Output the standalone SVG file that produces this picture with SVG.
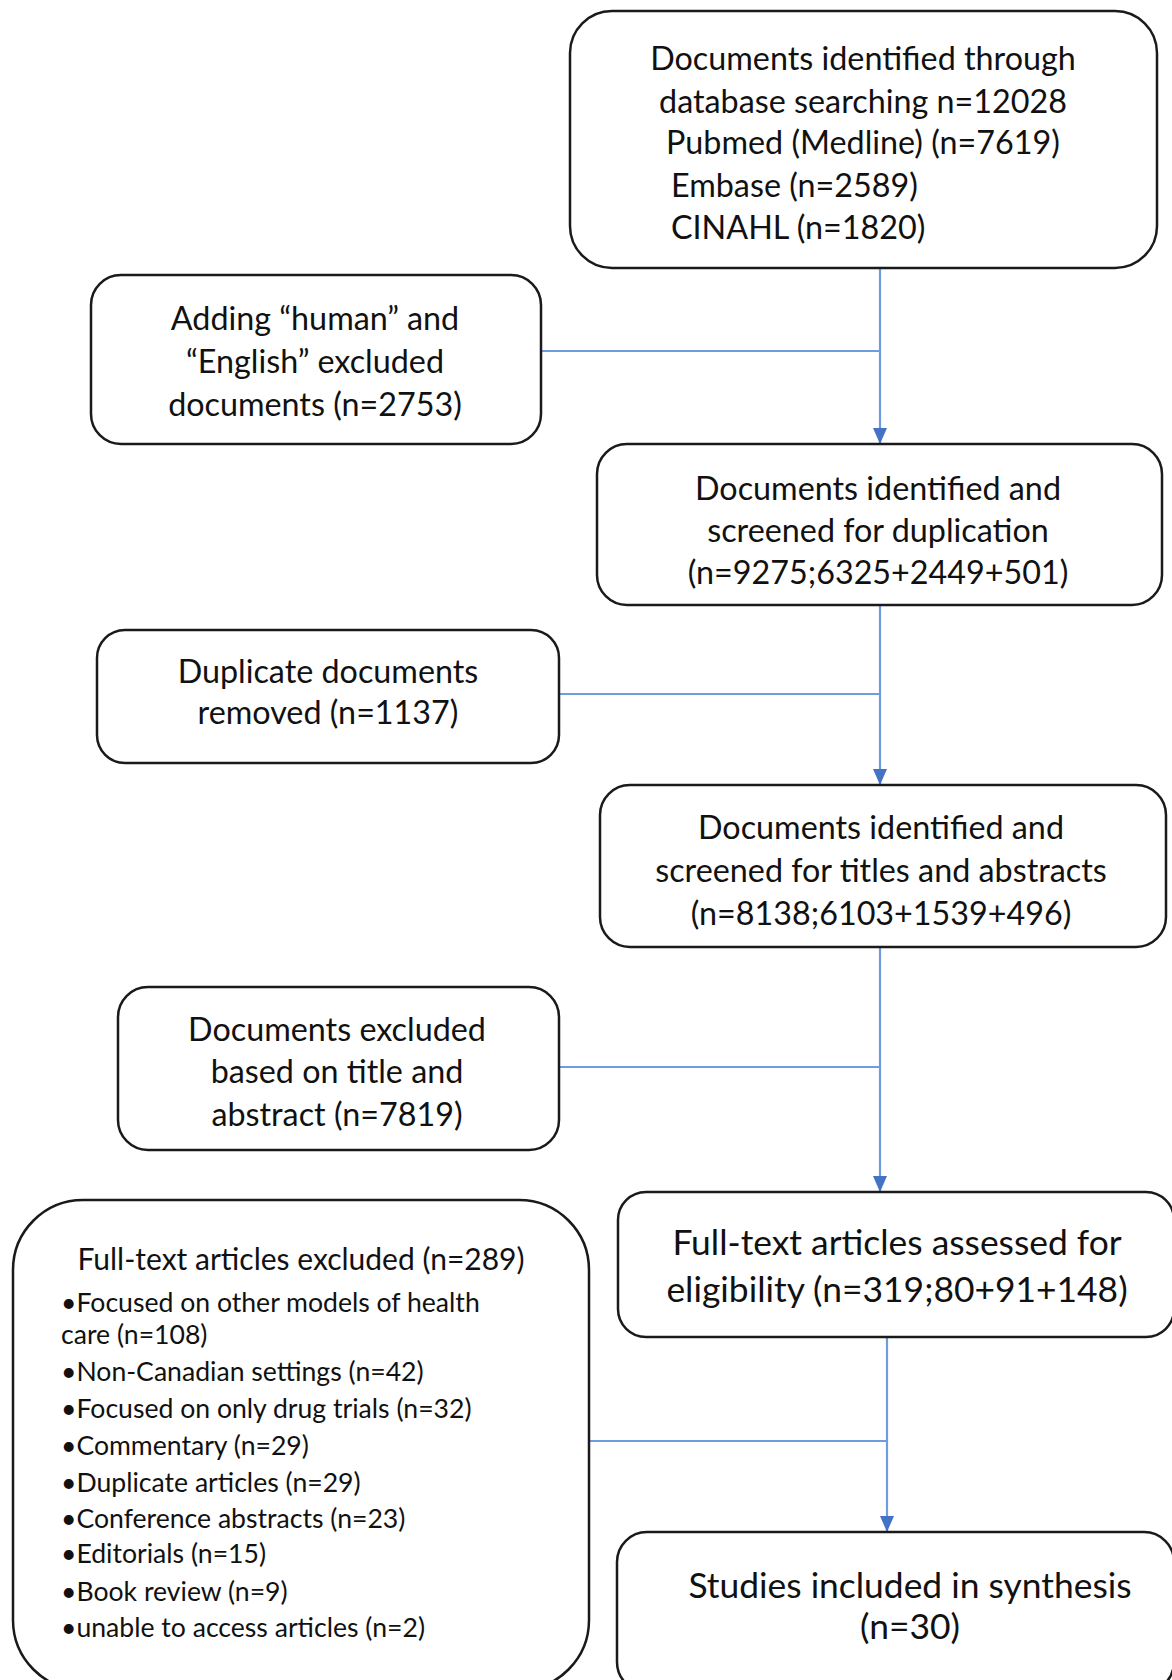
<svg xmlns="http://www.w3.org/2000/svg" width="1172" height="1680" viewBox="0 0 1172 1680">
<style>
.box{fill:#fff;stroke:#1a1a1a;stroke-width:2.5}
.t{font-family:Lato,"Liberation Sans",sans-serif;font-size:32.3px;fill:#111;text-anchor:middle}
.tb{font-family:Lato,"Liberation Sans",sans-serif;font-size:35.4px;fill:#111;text-anchor:middle}
.tl{font-family:Lato,"Liberation Sans",sans-serif;font-size:26.6px;fill:#111}
.tt{font-family:Lato,"Liberation Sans",sans-serif;font-size:30px;fill:#111;text-anchor:middle}
.c{stroke:#6f9be0;stroke-width:2.2;fill:none}
</style>
<defs>
<marker id="ah" markerWidth="16" markerHeight="14" refX="16" refY="7" orient="auto" markerUnits="userSpaceOnUse" viewBox="0 0 16 14">
<path d="M0,0 L16,7 L0,14 Z" fill="#4472c4"/>
</marker>
</defs>
<rect width="1172" height="1680" fill="#fff"/>
<g id="connectors">
<path class="c" d="M880,268 V444" marker-end="url(#ah)"/>
<path class="c" d="M541,351 H880"/>
<path class="c" d="M880,605 V785" marker-end="url(#ah)"/>
<path class="c" d="M559,694 H880"/>
<path class="c" d="M880,947 V1192" marker-end="url(#ah)"/>
<path class="c" d="M559,1067 H880"/>
<path class="c" d="M887,1337 V1532" marker-end="url(#ah)"/>
<path class="c" d="M589,1441 H887"/>
</g>
<g id="n1">
<rect class="box" x="570" y="11" width="587" height="257" rx="42"/>
<text class="t" x="863" y="70">Documents identified through</text>
<text class="t" x="863" y="113">database searching n=12028</text>
<text class="t" x="863" y="154">Pubmed (Medline) (n=7619)</text>
<text class="t" x="671" y="197" style="text-anchor:start">Embase (n=2589)</text>
<text class="t" x="671" y="239" style="text-anchor:start">CINAHL (n=1820)</text>
</g>
<g id="n2">
<rect class="box" x="91" y="275" width="450" height="169" rx="30"/>
<text class="t" x="315" y="330">Adding “human” and</text>
<text class="t" x="315" y="373">“English” excluded</text>
<text class="t" x="315" y="416">documents (n=2753)</text>
</g>
<g id="n3">
<rect class="box" x="597" y="444" width="565" height="161" rx="30"/>
<text class="t" x="878" y="500">Documents identified and</text>
<text class="t" x="878" y="542">screened for duplication</text>
<text class="t" x="878" y="584">(n=9275;6325+2449+501)</text>
</g>
<g id="n4">
<rect class="box" x="97" y="630" width="462" height="133" rx="28"/>
<text class="t" x="328" y="683">Duplicate documents</text>
<text class="t" x="328" y="724">removed (n=1137)</text>
</g>
<g id="n5">
<rect class="box" x="600" y="785" width="566" height="162" rx="30"/>
<text class="t" x="881" y="839">Documents identified and</text>
<text class="t" x="881" y="882">screened for titles and abstracts</text>
<text class="t" x="881" y="925">(n=8138;6103+1539+496)</text>
</g>
<g id="n6">
<rect class="box" x="118" y="987" width="441" height="163" rx="30"/>
<text class="t" x="337" y="1041">Documents excluded</text>
<text class="t" x="337" y="1083">based on title and</text>
<text class="t" x="337" y="1126">abstract (n=7819)</text>
</g>
<g id="n7">
<rect class="box" x="618" y="1192" width="556" height="145" rx="28"/>
<text class="tb" x="897" y="1255">Full-text articles assessed for</text>
<text class="tb" x="897" y="1302">eligibility (n=319;80+91+148)</text>
</g>
<g id="n8">
<rect class="box" x="13" y="1200" width="576" height="490" rx="70"/>
<text class="tt" x="301" y="1270">Full-text articles excluded (n=289)</text>
<text class="tl" x="61" y="1312">•Focused on other models of health</text>
<text class="tl" x="61" y="1344">care (n=108)</text>
<text class="tl" x="61" y="1381">•Non-Canadian settings (n=42)</text>
<text class="tl" x="61" y="1418">•Focused on only drug trials (n=32)</text>
<text class="tl" x="61" y="1455">•Commentary (n=29)</text>
<text class="tl" x="61" y="1492">•Duplicate articles (n=29)</text>
<text class="tl" x="61" y="1528">•Conference abstracts (n=23)</text>
<text class="tl" x="61" y="1563">•Editorials (n=15)</text>
<text class="tl" x="61" y="1601">•Book review (n=9)</text>
<text class="tl" x="61" y="1637">•unable to access articles (n=2)</text>
</g>
<g id="n9">
<rect class="box" x="617" y="1532" width="557" height="160" rx="30"/>
<text class="tb" x="910" y="1598">Studies included in synthesis</text>
<text class="tb" x="910" y="1639">(n=30)</text>
</g>
</svg>
